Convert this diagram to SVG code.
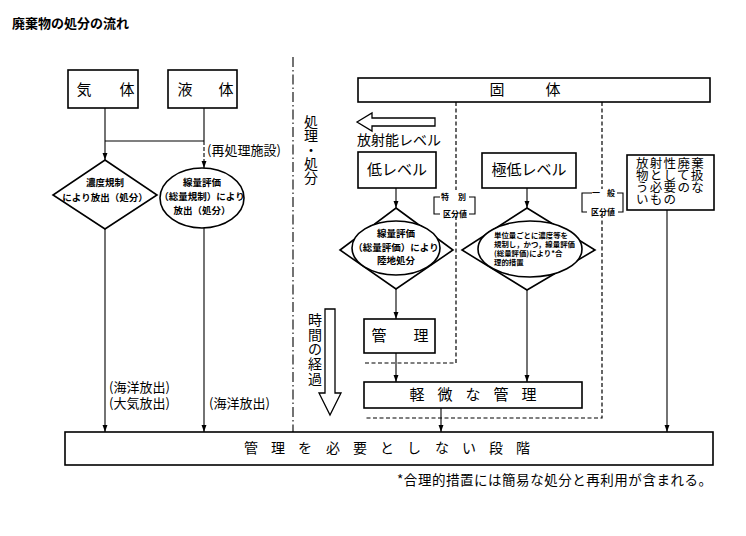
<svg xmlns="http://www.w3.org/2000/svg" width="746" height="536" viewBox="0 0 746 536">
<style>
text{font-family:"Noto Sans CJK JP","Liberation Sans",sans-serif;fill:#000}
.box{fill:#fff;stroke:#000;stroke-width:1.6}
.shape{fill:#fff;stroke:#000;stroke-width:1.6}
.lbl{font-size:15px}
.mid{font-size:13px}
.sm{font-size:9.5px;font-weight:700}
.xs{font-size:7.4px;font-weight:700}
.tiny{font-size:8px;font-weight:700}
.rb{font-size:12.5px;letter-spacing:1.3px}
.ln{fill:none;stroke:#000;stroke-width:1.1}
.dash{fill:none;stroke:#000;stroke-width:1.2;stroke-dasharray:4 2.5}
.dashdot{fill:none;stroke:#000;stroke-width:1.1;stroke-dasharray:10 3 1.5 3}
.c{text-anchor:middle}
</style>
<defs>
<marker id="ah" viewBox="0 0 10 10" refX="10" refY="5" markerWidth="7" markerHeight="7" orient="auto" markerUnits="userSpaceOnUse">
<path d="M0,1.5 L10,5 L0,8.5 z" fill="#000"/>
</marker>
</defs>
<rect width="746" height="536" fill="#fff"/>

<text x="12" y="28" style="font-size:13px;font-weight:700">廃棄物の処分の流れ</text>

<g id="connectors">
<path class="ln" d="M105,108 V160" marker-end="url(#ah)"/>
<path class="ln" d="M204,108 V141 M105,141 H204"/>
<path class="ln" d="M204,141 V168" stroke-dasharray="4 2" marker-end="url(#ah)"/>
<path class="ln" d="M105,228 V432" marker-end="url(#ah)"/>
<path class="ln" d="M204,228 V432" marker-end="url(#ah)"/>
<path class="dashdot" d="M293,57 V432"/>
<path class="ln" d="M396,188 V208" marker-end="url(#ah)"/>
<path class="ln" d="M527,188 V208" marker-end="url(#ah)"/>
<path class="ln" d="M396,289 V319" marker-end="url(#ah)"/>
<path class="ln" d="M396,353 V382" marker-end="url(#ah)"/>
<path class="ln" d="M527,290 V382" marker-end="url(#ah)"/>
<path class="ln" d="M441,408 V432" marker-end="url(#ah)"/>
<path class="ln" d="M667,210 V432" marker-end="url(#ah)"/>
<path class="dash" d="M456,102 V190 M456,216 V363 H364"/>
<path class="dash" d="M602,102 V189 M602,214 V418 H364"/>
</g>

<g id="gas">
<rect class="box" x="68" y="70" width="70" height="38"/>
<text class="lbl c" x="84 127" y="95">気体</text>
</g>
<g id="liquid">
<rect class="box" x="168" y="70" width="69" height="38"/>
<text class="lbl c" x="185 226" y="95">液体</text>
</g>
<g id="reprocess-label">
<text class="mid" x="207" y="155">(再処理施設)</text>
</g>
<g id="gas-decision">
<polygon class="shape" points="105,160 157,195 105,229 53,195"/>
<text class="sm c" x="105" y="186">濃度規制</text>
<text class="sm c" x="105" y="201">により放出（処分）</text>
</g>
<g id="liquid-decision">
<ellipse class="shape" cx="202" cy="198" rx="42" ry="30"/>
<text class="sm c" x="202" y="186">線量評価</text>
<text class="sm c" x="202" y="200">（総量規制）により</text>
<text class="sm c" x="202" y="214">放出（処分）</text>
</g>
<g id="release-labels">
<text class="mid" x="109" y="392">(海洋放出)</text>
<text class="mid" x="109" y="408">(大気放出)</text>
<text class="mid" x="209" y="408">(海洋放出)</text>
</g>

<g id="process-label">
<text class="c" x="311 311 311 311 311" y="127 141 155 169 183" style="font-size:14px">処理・処分</text>
</g>
<g id="time-label">
<text class="c" x="315 315 315 315 315" y="325 340 354 369 384" style="font-size:14px">時間の経過</text>
<polygon class="shape" style="stroke-width:1.3" points="325,309 335,309 335,393 341,393 330,415 319,393 325,393"/>
</g>

<g id="solid">
<rect class="box" x="358" y="78" width="352" height="24"/>
<text class="lbl c" x="497 553" y="95">固体</text>
</g>
<g id="level-arrow">
<polygon class="shape" style="stroke-width:1.3" points="357,122 372,113 372,118 435,118 435,126 372,126 372,131"/>
<text x="357" y="145" style="font-size:14px">放射能レベル</text>
</g>
<g id="low-level">
<rect class="box" x="358" y="152" width="78" height="36"/>
<text class="lbl c" x="397" y="175">低レベル</text>
</g>
<g id="very-low-level">
<rect class="box" x="482" y="153" width="94" height="35"/>
<text class="lbl c" x="529" y="175">極低レベル</text>
</g>
<g id="not-radioactive">
<rect class="box" x="627" y="155" width="87" height="55"/>
<text class="rb" x="636" y="168">放射性廃棄</text>
<text class="rb" x="636" y="180">物として扱</text>
<text class="rb" x="636" y="192">う必要のな</text>
<text class="rb" x="636" y="204">いもの</text>
</g>
<g id="special-limit">
<path class="ln" d="M440,197 H434 V214 H440 M469,197 H475 V214 H469"/>
<text class="tiny c" x="445 462" y="200">特別</text>
<text class="tiny c" x="455" y="217">区分値</text>
</g>
<g id="general-limit">
<path class="ln" d="M592,193 H582 V212 H587 M617,193 H623 V212 H618"/>
<text class="tiny c" x="596 611" y="196">一般</text>
<text class="tiny c" x="603" y="215">区分値</text>
</g>
<g id="low-decision">
<polygon class="shape" points="396,208 453,250 396,289 340,250"/>
<ellipse class="shape" cx="396" cy="248" rx="44" ry="27"/>
<text class="sm c" x="396" y="237">線量評価</text>
<text class="sm c" x="396" y="251">（総量評価）により</text>
<text class="sm c" x="396" y="264">陸地処分</text>
</g>
<g id="very-low-decision">
<polygon class="shape" points="527,208 595,250 527,290 462,250"/>
<ellipse class="shape" cx="530" cy="249" rx="52" ry="28"/>
<text class="xs" x="494" y="238">単位量ごとに濃度等を</text>
<text class="xs" x="494" y="247">規制し，かつ，線量評価</text>
<text class="xs" x="494" y="256">(総量評価)により*合</text>
<text class="xs" x="494" y="265">理的措置</text>
</g>
<g id="management">
<rect class="box" x="364" y="319" width="71" height="34"/>
<text class="lbl c" x="379 421" y="341">管理</text>
</g>
<g id="light-management">
<rect class="box" x="364" y="382" width="218" height="26"/>
<text class="lbl c" x="417 445 473 501 529" y="400">軽微な管理</text>
</g>
<g id="no-management">
<rect class="box" x="65" y="432" width="648" height="33"/>
<text class="c" style="font-size:14px" x="251 278 305 333 360 387 414 442 469 496 523" y="453">管理を必要としない段階</text>
</g>
<g id="footnote">
<text x="397" y="485" style="font-size:13.5px" textLength="315">*合理的措置には簡易な処分と再利用が含まれる。</text>
</g>
</svg>
